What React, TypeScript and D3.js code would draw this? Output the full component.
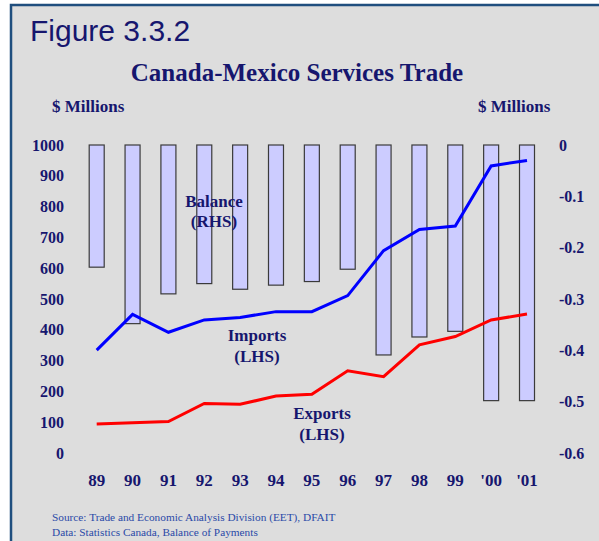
import React from "react";
import * as d3 from "d3";

const years = ["89", "90", "91", "92", "93", "94", "95", "96", "97", "98", "99", "'00", "'01"];
const balance = [-0.238, -0.348, -0.29, -0.27, -0.281, -0.273, -0.266, -0.242, -0.409, -0.374, -0.363, -0.498, -0.498];
const imports = [334, 450, 392, 432, 440, 459, 459, 511, 657, 726, 737, 932, 950];
const exportsV = [94, 98, 102, 161, 158, 185, 191, 267, 248, 351, 378, 432, 451];
const leftTicks = [0, 100, 200, 300, 400, 500, 600, 700, 800, 900, 1000];
const rightTicks = [0, -0.1, -0.2, -0.3, -0.4, -0.5, -0.6];

const W = 599;
const H = 541;
const NAVY = "#16166e";
const SERIF = "'Liberation Serif', 'Times New Roman', serif";

export default function App() {
  const x = d3.scalePoint<string>().domain(years).range([96.7, 527]);
  const yL = d3.scaleLinear().domain([0, 1000]).range([453, 145]);
  const yR = d3.scaleLinear().domain([-0.6, 0]).range([453, 145]);
  const barW = 15;

  const lineL = d3
    .line<number>()
    .x((_, i) => x(years[i]) as number)
    .y((d) => yL(d));

  return (
    <svg
      width={W}
      height={H}
      style={{ position: "absolute", left: 0, top: 0 }}
      fontFamily={SERIF}
    >
      <rect x={0} y={0} width={W} height={H} fill="#ffffff" />
      <rect x={11} y={5} width={W + 10} height={H + 10} fill="#dddddd" stroke="#1f4e7e" strokeWidth={2.5} />
      <text x={30} y={41} fontFamily="'Liberation Sans', Arial, sans-serif" fontSize={30} fill={NAVY}>
        Figure 3.3.2
      </text>
      <text x={297} y={81} textAnchor="middle" fontSize={25} fontWeight="bold" fill={NAVY}>
        Canada-Mexico Services Trade
      </text>
      <text x={52} y={112} fontSize={17} fontWeight="bold" fill={NAVY}>
        $ Millions
      </text>
      <text x={478} y={112} fontSize={17} fontWeight="bold" fill={NAVY}>
        $ Millions
      </text>

      {/* bars */}
      {balance.map((v, i) => (
        <rect
          key={years[i]}
          x={(x(years[i]) as number) - barW / 2}
          y={yR(0)}
          width={barW}
          height={yR(v) - yR(0)}
          fill="#ccccff"
          stroke="#3a3a3a"
          strokeWidth={1.2}
        />
      ))}

      <path d={lineL(imports) || ""} fill="none" stroke="#0000ff" strokeWidth={3} />
      <path d={lineL(exportsV) || ""} fill="none" stroke="#ff0000" strokeWidth={3} />

      {/* left ticks */}
      {leftTicks.map((t) => (
        <text key={"l" + t} x={64} y={yL(t)} dy="0.35em" textAnchor="end" fontSize={16} fontWeight="bold" fill={NAVY}>
          {t}
        </text>
      ))}
      {/* right ticks */}
      {rightTicks.map((t) => (
        <text key={"r" + t} x={559} y={yR(t)} dy="0.35em" textAnchor="start" fontSize={16} fontWeight="bold" fill={NAVY}>
          {t === 0 ? "0" : t.toFixed(1)}
        </text>
      ))}
      {/* x labels */}
      {years.map((yr) => (
        <text key={"x" + yr} x={x(yr) as number} y={486} textAnchor="middle" fontSize={17} fontWeight="bold" fill={NAVY}>
          {yr}
        </text>
      ))}

      {/* annotations */}
      <text x={214} y={207} textAnchor="middle" fontSize={17} fontWeight="bold" fill={NAVY}>
        Balance
      </text>
      <text x={214} y={227} textAnchor="middle" fontSize={17} fontWeight="bold" fill={NAVY}>
        (RHS)
      </text>
      <text x={257} y={341} textAnchor="middle" fontSize={17} fontWeight="bold" fill={NAVY}>
        Imports
      </text>
      <text x={257} y={362} textAnchor="middle" fontSize={17} fontWeight="bold" fill={NAVY}>
        (LHS)
      </text>
      <text x={322} y={419} textAnchor="middle" fontSize={17} fontWeight="bold" fill={NAVY}>
        Exports
      </text>
      <text x={322} y={440} textAnchor="middle" fontSize={17} fontWeight="bold" fill={NAVY}>
        (LHS)
      </text>

      <text x={52} y={521} fontSize={11.3} fill="#2a4aa8">
        Source: Trade and Economic Analysis Division (EET), DFAIT
      </text>
      <text x={52} y={536} fontSize={11.3} fill="#2a4aa8">
        Data: Statistics Canada, Balance of Payments
      </text>
    </svg>
  );
}
